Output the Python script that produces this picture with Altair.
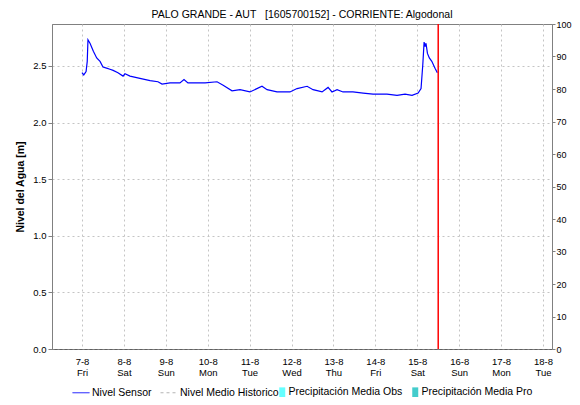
import altair as alt
import pandas as pd

FONT = "Liberation Sans"
TITLE = "PALO GRANDE - AUT\u00a0\u00a0\u00a0[1605700152] - CORRIENTE: Algodonal"
Y_LEFT_TITLE = "Nivel del Agua [m]"

SENSOR_TIMES = [
    "2020-08-07T00:00Z", "2020-08-07T01:00Z", "2020-08-07T02:20Z", "2020-08-07T03:00Z", "2020-08-07T03:25Z",
    "2020-08-07T04:35Z", "2020-08-07T06:30Z", "2020-08-07T08:25Z", "2020-08-07T10:20Z", "2020-08-07T12:00Z",
    "2020-08-07T14:05Z", "2020-08-07T16:00Z", "2020-08-07T17:50Z", "2020-08-07T20:35Z", "2020-08-07T23:30Z",
    "2020-08-08T00:35Z", "2020-08-08T03:30Z", "2020-08-08T09:10Z", "2020-08-08T15:00Z", "2020-08-08T19:30Z",
    "2020-08-08T21:50Z", "2020-08-09T02:25Z", "2020-08-09T08:05Z", "2020-08-09T10:25Z", "2020-08-09T12:40Z",
    "2020-08-09T22:30Z", "2020-08-10T05:20Z", "2020-08-10T08:50Z", "2020-08-10T13:55Z", "2020-08-10T18:30Z",
    "2020-08-11T00:10Z", "2020-08-11T07:05Z", "2020-08-11T10:00Z", "2020-08-11T15:40Z", "2020-08-11T23:05Z",
    "2020-08-12T03:10Z", "2020-08-12T08:55Z", "2020-08-12T12:20Z", "2020-08-12T17:30Z", "2020-08-12T20:55Z",
    "2020-08-12T23:10Z", "2020-08-13T02:05Z", "2020-08-13T05:30Z", "2020-08-13T11:10Z", "2020-08-13T17:00Z",
    "2020-08-13T22:40Z", "2020-08-14T06:40Z", "2020-08-14T12:25Z", "2020-08-14T17:00Z", "2020-08-14T21:00Z",
    "2020-08-15T00:30Z", "2020-08-15T02:10Z", "2020-08-15T03:10Z", "2020-08-15T03:55Z", "2020-08-15T04:30Z",
    "2020-08-15T05:00Z", "2020-08-15T05:50Z", "2020-08-15T06:55Z", "2020-08-15T08:20Z", "2020-08-15T10:10Z",
    "2020-08-15T11:30Z",
]
SENSOR_LEVELS = [
    2.44, 2.42, 2.45, 2.54, 2.73,
    2.70, 2.63, 2.57, 2.54, 2.49,
    2.48, 2.47, 2.46, 2.44, 2.41,
    2.43, 2.41, 2.39, 2.37, 2.36,
    2.34, 2.35, 2.35, 2.38, 2.35,
    2.35, 2.36, 2.33, 2.28, 2.29,
    2.27, 2.32, 2.29, 2.27, 2.27,
    2.30, 2.32, 2.29, 2.27, 2.31,
    2.27, 2.29, 2.27, 2.27, 2.26,
    2.25, 2.25, 2.24, 2.25, 2.24,
    2.26, 2.30, 2.51, 2.71, 2.67,
    2.70, 2.61, 2.57, 2.54, 2.48,
    2.44,
]
NOW_TIME = ["2020-08-15T12:00Z"]

TICK_DAYS = list(range(7, 19))
Y_LEFT_TICKS = [0.0, 0.5, 1.0, 1.5, 2.0, 2.5]
Y_LEFT_MAX = 2.87
Y_RIGHT_TICKS = [0, 10, 20, 30, 40, 50, 60, 70, 80, 90, 100]

LINE_LABELS = ["Nivel Sensor", "Nivel Medio Historico"]
LINE_COLORS = ["#0000FF", "#B4B4B4"]
LINE_DASHES = [[1, 0], [3, 3]]
PRECIP_LABELS = ["Precipitación Media Obs", "Precipitación Media Pro"]
PRECIP_COLORS = ["#66FFFF", "#44CCCC"]
SQUARE_PATH = "M-0.6,-1H0.6V1H-0.6Z"

sensor_df = pd.DataFrame({"t": SENSOR_TIMES, "nivel": SENSOR_LEVELS})
now_df = pd.DataFrame({"t": NOW_TIME})
line_leg_df = pd.DataFrame({"serie": LINE_LABELS})
precip_leg_df = pd.DataFrame({"precip_serie": PRECIP_LABELS})

x_axis = alt.Axis(
    values=[alt.DateTime(year=2020, month=8, date=d, utc=True) for d in TICK_DAYS],
    labelExpr="[utcFormat(datum.value, '%-d-%-m'), utcFormat(datum.value, '%a')]",
    grid=True, gridDash=[2, 3], gridColor="#C4C4C4",
    ticks=False, domainColor="#404040", domainDash=[1, 1],
    labelPadding=7, labelLineHeight=11, labelFont=FONT, labelFontSize=9.5,
    labelColor="#000000", labelFlush=False, labelOverlap=False, title=None,
)
x_enc = alt.X(
    "t:T",
    scale=alt.Scale(type="utc", domain=[
        alt.DateTime(year=2020, month=8, date=6, hours=6, minutes=49, utc=True),
        alt.DateTime(year=2020, month=8, date=18, hours=5, minutes=10, utc=True)]),
    axis=x_axis,
)

left_axis = alt.Axis(
    orient="left", values=Y_LEFT_TICKS, format=".1f",
    grid=True, gridDash=[2, 3], gridColor="#C4C4C4",
    domainColor="#808080", tickColor="#808080", tickSize=4, labelPadding=2,
    labelFont=FONT, labelFontSize=9.5, labelColor="#000000",
    title=Y_LEFT_TITLE, titleFont=FONT, titleFontSize=10.5, titleFontWeight="bold",
    titleColor="#000000", titleX=-32, titleY=162.5, titleBaseline="middle", titleAngle=270,
)
right_axis = alt.Axis(
    orient="right", values=Y_RIGHT_TICKS, format="d", grid=False,
    domainColor="#808080", tickColor="#808080", tickSize=3, labelPadding=1,
    labelFont=FONT, labelFontSize=9, labelColor="#000000", title=None,
)

line = alt.Chart(sensor_df).mark_line(color="#0000FF", strokeWidth=1.2).encode(
    x=x_enc,
    y=alt.Y("nivel:Q", scale=alt.Scale(domain=[0, Y_LEFT_MAX], nice=False), axis=left_axis),
)

rule = alt.Chart(now_df).mark_rule(color="#FF0000", strokeWidth=1.5).encode(x=x_enc)

line_legend = alt.Legend(
    orient="none", legendX=20, legendY=359.5, direction="horizontal", columns=2,
    title=None, symbolType="stroke", symbolSize=289, symbolStrokeWidth=1,
    labelOffset=2, columnPadding=6,
    padding=0, labelFont=FONT, labelFontSize=10.5, labelColor="#000000",
)
line_leg_layer = alt.Chart(line_leg_df).mark_point(filled=False, opacity=1, shape="stroke").encode(
    x=x_enc,
    y=alt.Y("precip:Q", scale=alt.Scale(domain=[0, 100], nice=False), axis=right_axis),
    stroke=alt.Stroke("serie:N", scale=alt.Scale(domain=LINE_LABELS, range=LINE_COLORS), legend=line_legend),
    strokeDash=alt.StrokeDash("serie:N", scale=alt.Scale(domain=LINE_LABELS, range=LINE_DASHES), legend=line_legend),
)

precip_legend = alt.Legend(
    orient="none", legendX=225, legendY=363, direction="horizontal", columns=2,
    title=None, symbolType=SQUARE_PATH, symbolSize=100, symbolStrokeWidth=0,
    labelOffset=1, columnPadding=7,
    padding=0, labelFont=FONT, labelFontSize=10.5, labelColor="#000000",
)
precip_leg_layer = alt.Chart(precip_leg_df).mark_point(filled=True, opacity=1, shape=SQUARE_PATH).encode(
    x=x_enc,
    fill=alt.Fill("precip_serie:N", scale=alt.Scale(domain=PRECIP_LABELS, range=PRECIP_COLORS), legend=precip_legend),
)

chart = alt.layer(line, rule, line_leg_layer, precip_leg_layer).resolve_scale(
    y="independent"
).properties(
    width=500, height=325,
    autosize=alt.AutoSizeParams(type="none"),
    padding={"left": 44, "top": 16, "right": 20, "bottom": 48},
    background="white",
    title=alt.TitleParams(text=TITLE, font=FONT, fontSize=10.5, fontWeight="normal",
                          color="#000000", anchor="middle", offset=0),
).configure_view(stroke="#808080", strokeWidth=1)

chart.save("out.html", embed_options={"renderer": "svg", "actions": False})
